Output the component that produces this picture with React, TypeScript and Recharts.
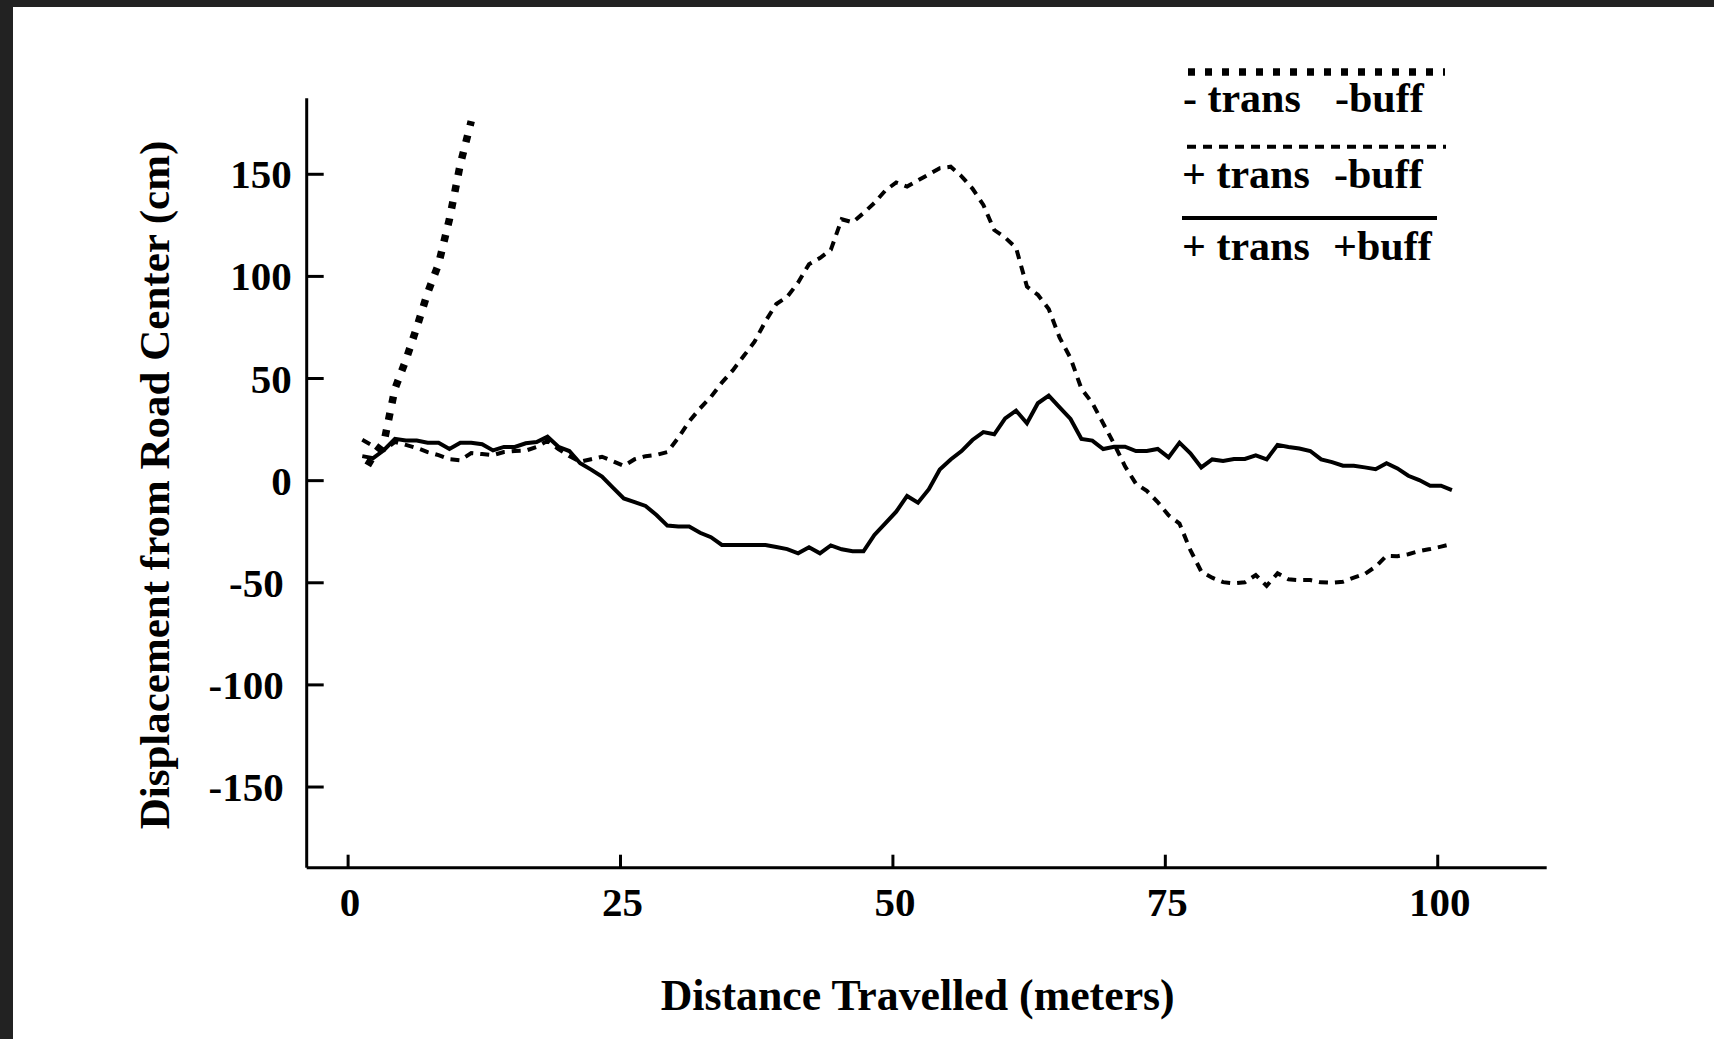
import React from 'react';
import { LineChart, Line, XAxis, YAxis, Legend } from 'recharts';

// Distance travelled (meters) sampled along the run
const distance = [
  1.3, 2.3, 3.3, 4.3, 5.3, 6.3, 7.3, 8.3, 9.3, 10.3,
  11.3, 12.3, 13.3, 14.3, 15.3, 16.3, 17.3, 18.3, 19.3, 20.3,
  21.3, 22.3, 23.3, 24.3, 25.3, 26.3, 27.3, 28.3, 29.3, 30.3,
  31.3, 32.3, 33.3, 34.3, 35.3, 36.3, 37.3, 38.3, 39.3, 40.3,
  41.3, 42.3, 43.3, 44.3, 45.3, 46.3, 47.3, 48.3, 49.3, 50.3,
  51.3, 52.3, 53.3, 54.3, 55.3, 56.3, 57.3, 58.3, 59.3, 60.3,
  61.3, 62.3, 63.3, 64.3, 65.3, 66.3, 67.3, 68.3, 69.3, 70.3,
  71.3, 72.3, 73.3, 74.3, 75.3, 76.3, 77.3, 78.3, 79.3, 80.3,
  81.3, 82.3, 83.3, 84.3, 85.3, 86.3, 87.3, 88.3, 89.3, 90.3,
  91.3, 92.3, 93.3, 94.3, 95.3, 96.3, 97.3, 98.3, 99.3, 100.3,
  101.3,
];

// "+ trans +buff" (solid)
const plusTransPlusBuff = [
  12, 11, 15, 20.5, 19.7, 19.6, 18.6, 18.6, 15.5, 18.6,
  18.6, 17.8, 14.8, 16.5, 16.5, 18.3, 18.9, 21.5, 16.6, 14.5,
  8.5, 5.4, 2, -3.4, -8.7, -10.5, -12.4, -16.8, -22, -22.5,
  -22.5, -25.5, -27.7, -31.5, -31.5, -31.5, -31.5, -31.5, -32.5, -33.5,
  -35.6, -32.6, -35.6, -31.7, -33.6, -34.6, -34.6, -26.6, -20.9, -15.2,
  -7.5, -10.8, -4.2, 5.5, 10.4, 14.5, 19.9, 23.8, 22.7, 30.5,
  34.3, 28.1, 37.9, 41.6, 35.9, 30.2, 20.4, 19.6, 15.5, 16.6,
  16.6, 14.5, 14.5, 15.5, 11.4, 18.6, 13.4, 6.5, 10.4, 9.6,
  10.6, 10.6, 12.4, 10.4, 17.5, 16.5, 15.7, 14.5, 10.4, 9.1,
  7.3, 7.3, 6.5, 5.6, 8.5, 6.0, 2.4, 0.3, -2.5, -2.5,
  -4.6,
];

// "+ trans -buff" (dashed)
const plusTransMinusBuff = [
  20, 17, 15, 19, 17.5, 16, 14, 12.5, 10.5, 10,
  13.5, 13, 12.5, 14, 14.5, 14.7, 16.5, 19.5, 15.5, 12,
  9.3, 10.5, 11.7, 9.5, 7.2, 10.5, 12, 12.6, 14, 21,
  29, 35.4, 41, 48, 54, 61, 68, 78, 86.5, 90,
  97, 106, 109, 113, 128, 126.5, 131, 136, 142, 146,
  144, 147, 150, 153, 153.7, 149, 143, 135, 122.7, 119,
  114, 95, 91, 84, 70, 60, 45, 38, 28, 18,
  7, -1.5, -5, -10.5, -17, -21, -34, -44.5, -47.5, -49.7,
  -50.3, -49.8, -46.2, -51.5, -45.4, -48.3, -48.7, -48.7, -49.8, -50,
  -49.5, -47.5, -45.7, -42.1, -36.8, -37, -36, -34.5, -33.5, -32.3,
  -31,
];

// "- trans -buff" (heavy dotted) – leaves the road quickly
const minusTransDistance = [1.8, 2.3, 3.3, 4.3, 5.3, 6.3, 7.3, 8.3, 9.3, 10.3, 11.3];
const minusTransMinusBuff = [7.5, 12, 19, 45, 59, 75, 92, 106, 128, 155, 176];

const xTicks = [0, 25, 50, 75, 100];
const yTicks = [-150, -100, -50, 0, 50, 100, 150];

const seriesNames = ['- trans -buff', '+ trans -buff', '+ trans +buff'];
const legendLeft = ['- trans', '+ trans', '+ trans'];
const legendRight = ['-buff', '-buff', '+buff'];

const FONT = '"Liberation Serif", "Times New Roman", Times, serif';

const solidData = distance.map((d, i) => ({ d, v: plusTransPlusBuff[i] }));
const dashedData = distance.map((d, i) => ({ d, v: plusTransMinusBuff[i] }));
const dottedData = minusTransDistance.map((d, i) => ({ d, v: minusTransMinusBuff[i] }));

const XTick = (props: any) => {
  const { x, y, payload } = props;
  return (
    <g>
      <line x1={x} y1={y} x2={x} y2={y - 13} stroke="#000" strokeWidth={3} />
      <text x={x + 2} y={y + 48} textAnchor="middle" fontFamily={FONT} fontWeight="bold" fontSize={41} fill="#000">
        {payload.value}
      </text>
    </g>
  );
};

const YTick = (props: any) => {
  const { x, y, payload } = props;
  const shift = payload.value < 0 ? 8 : 0;
  return (
    <g>
      <line x1={x} y1={y} x2={x + 17} y2={y} stroke="#000" strokeWidth={3} />
      <text x={x - 15 - shift} y={y + 14} textAnchor="end" fontFamily={FONT} fontWeight="bold" fontSize={41} fill="#000">
        {payload.value}
      </text>
    </g>
  );
};

const XLabel = (props: any) => {
  const { viewBox } = props;
  const cx = viewBox.x + viewBox.width / 2 - 9;
  return (
    <text x={cx} y={viewBox.y + 142} textAnchor="middle" fontFamily={FONT} fontWeight="bold" fontSize={43.8} fill="#000">
      Distance Travelled (meters)
    </text>
  );
};

const YLabel = (props: any) => {
  const { viewBox } = props;
  const cx = viewBox.x - 38;
  const cy = viewBox.y + viewBox.height / 2 + 2;
  return (
    <text
      x={cx}
      y={cy}
      transform={`rotate(-90 ${cx} ${cy})`}
      textAnchor="middle"
      fontFamily={FONT}
      fontWeight="bold"
      fontSize={43}
      fill="#000"
    >
      Displacement from Road Center (cm)
    </text>
  );
};

const legendStyles = [
  { y: 22, x1: 18, x2: 275, width: 7.5, dash: '7 10', textY: 62, lx: 13, rx: 165 },
  { y: 96.7, x1: 17, x2: 276, width: 4, dash: '9 7', textY: 137.7, lx: 12, rx: 164 },
  { y: 168, x1: 12, x2: 267, width: 4, dash: undefined as string | undefined, textY: 210, lx: 12, rx: 163 },
];

const LegendContent = () => (
  <svg width={300} height={230} style={{ display: 'block', overflow: 'visible' }}>
    {seriesNames.map((name, i) => {
      const s = legendStyles[i];
      return (
        <g key={name}>
          <line x1={s.x1} y1={s.y} x2={s.x2} y2={s.y} stroke="#000" strokeWidth={s.width} strokeDasharray={s.dash} />
          <text x={s.lx} y={s.textY} fontFamily={FONT} fontWeight="bold" fontSize={42} fill="#000">
            {legendLeft[i]}
          </text>
          <text x={s.rx} y={s.textY} fontFamily={FONT} fontWeight="bold" fontSize={42} fill="#000">
            {legendRight[i]}
          </text>
        </g>
      );
    })}
  </svg>
);

export default function App() {
  return (
    <div style={{ position: 'absolute', left: 0, top: 0, width: 1714, height: 1039, background: '#222222', overflow: 'hidden' }}>
      <div style={{ position: 'absolute', left: 13, top: 7, width: 1701, height: 1032, background: '#ffffff' }} />
      <div style={{ position: 'absolute', left: 0, top: 0 }}>
        <LineChart
          width={1714}
          height={1039}
          margin={{ top: 98.3, right: 167.3, bottom: 71.3, left: 206.7 }}
        >
          <XAxis
            dataKey="d"
            type="number"
            domain={[-3.8, 110]}
            ticks={xTicks}
            allowDataOverflow
            height={100}
            tickSize={0}
            tickMargin={0}
            tickLine={false}
            axisLine={{ stroke: '#000', strokeWidth: 3 }}
            tick={<XTick />}
            label={<XLabel />}
            interval={0}
          />
          <YAxis
            type="number"
            domain={[-189.5, 187.2]}
            ticks={yTicks}
            allowDataOverflow
            width={100}
            tickSize={0}
            tickMargin={0}
            tickLine={false}
            axisLine={{ stroke: '#000', strokeWidth: 3 }}
            tick={<YTick />}
            label={<YLabel />}
            interval={0}
          />
          <Legend
            layout="horizontal"
            verticalAlign="middle"
            align="center"
            content={<LegendContent />}
            wrapperStyle={{ left: 1170, top: 50, width: 300, height: 230 }}
          />
          <Line
            data={dottedData}
            dataKey="v"
            name={seriesNames[0]}
            stroke="#000"
            strokeWidth={7.5}
            strokeDasharray="7 10"
            dot={false}
            type="linear"
            isAnimationActive={false}
          />
          <Line
            data={dashedData}
            dataKey="v"
            name={seriesNames[1]}
            stroke="#000"
            strokeWidth={4}
            strokeDasharray="9 7"
            dot={false}
            type="linear"
            isAnimationActive={false}
          />
          <Line
            data={solidData}
            dataKey="v"
            name={seriesNames[2]}
            stroke="#000"
            strokeWidth={4}
            strokeLinejoin="miter"
            dot={false}
            type="linear"
            isAnimationActive={false}
          />
        </LineChart>
      </div>
    </div>
  );
}
